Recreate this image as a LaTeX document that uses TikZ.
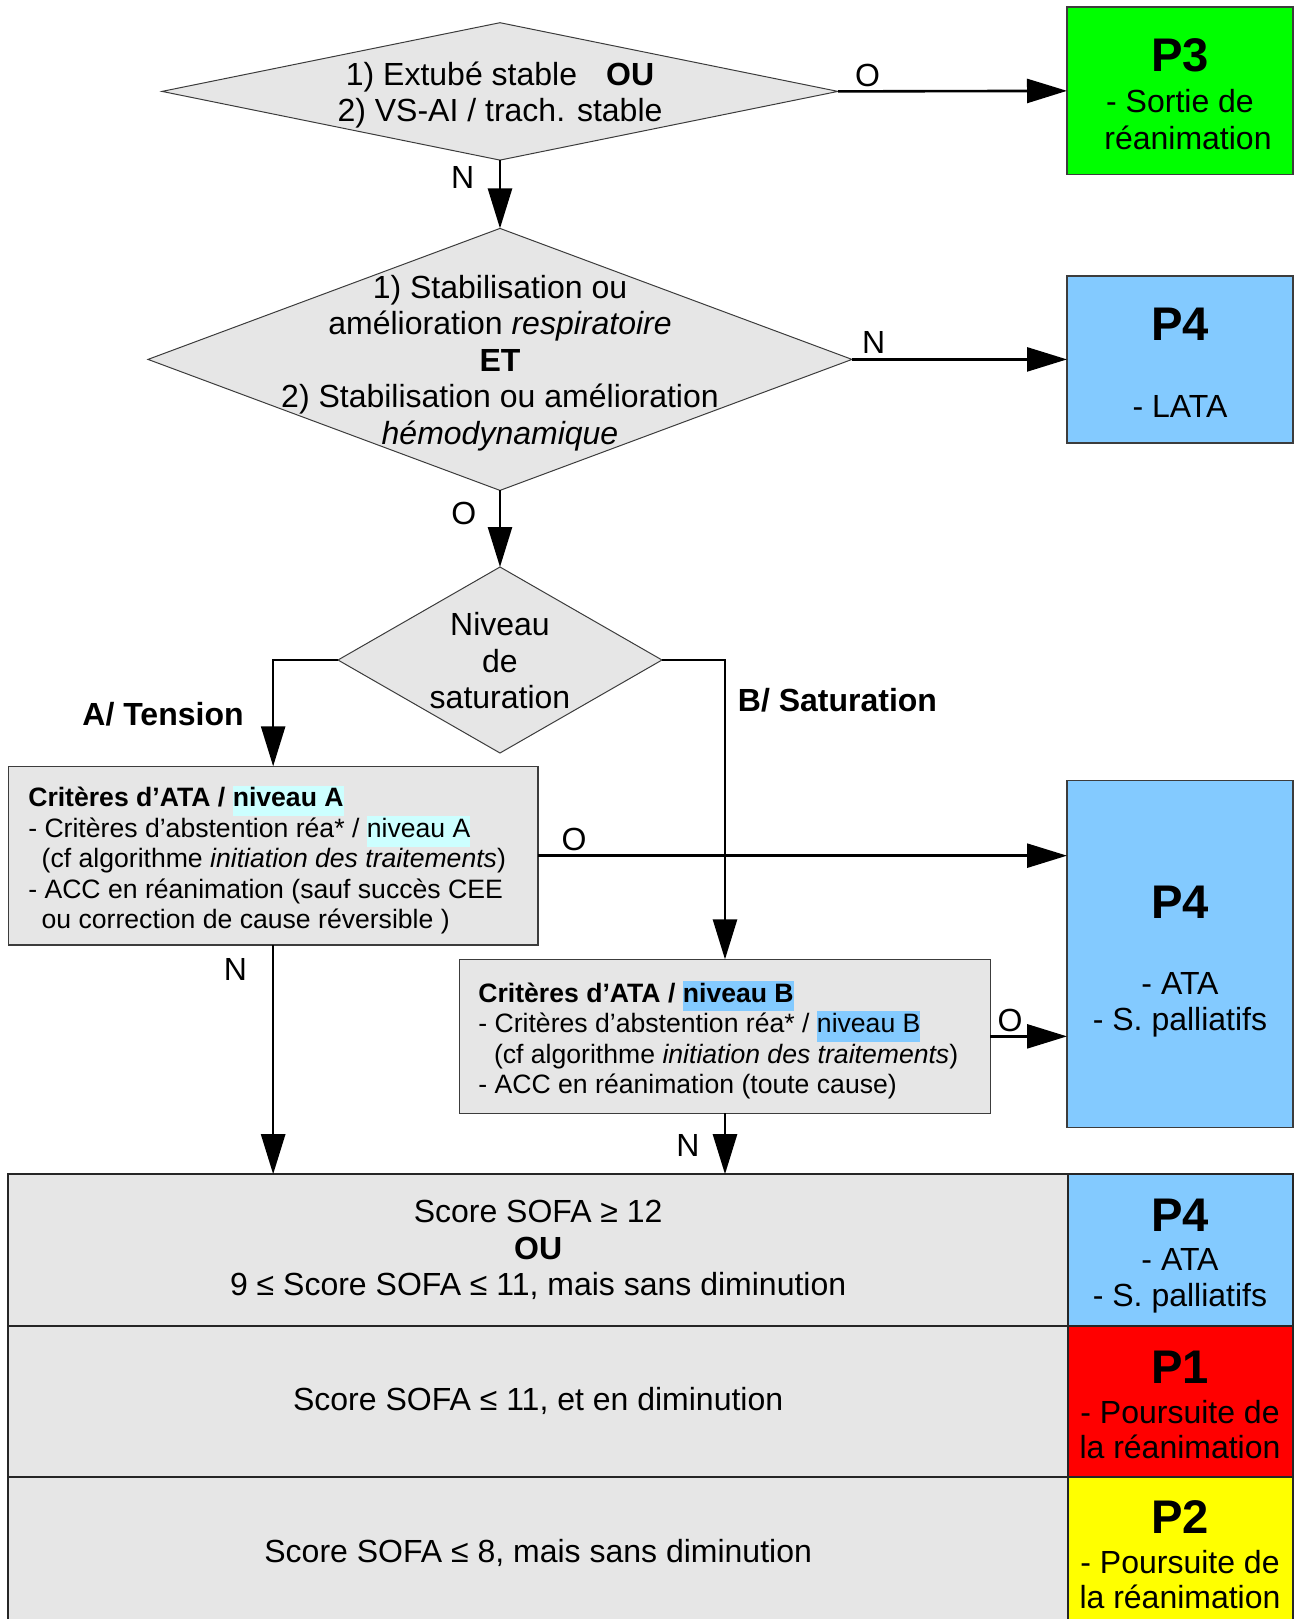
\documentclass[tikz,border=0pt]{standalone}
\usepackage{fontspec}
\setmainfont{Liberation Sans}
\usetikzlibrary{shapes.geometric,arrows.meta}
\definecolor{boxgray}{HTML}{E6E6E6}
\definecolor{pgreen}{HTML}{00FF00}
\definecolor{pblue}{HTML}{83CAFF}
\definecolor{pred}{HTML}{FF0000}
\definecolor{pyellow}{HTML}{FFFF00}
\definecolor{hlcyan}{HTML}{CCFFFF}
\definecolor{edgegray}{HTML}{3C3C3C}
\newcommand\fmain{\fontsize{16pt}{18.25pt}\selectfont}
\newcommand\fsmall{\fontsize{13.3pt}{15.25pt}\selectfont}
\newcommand\fbig{\fontsize{23.6pt}{28pt}\selectfont\bfseries}
\newcommand\hlbox[2]{{\setlength{\fboxsep}{0pt}\colorbox{#1}{\strut #2}}}
\begin{document}
\begin{tikzpicture}[x=0.5pt,y=-0.5pt,
  decision/.style={shape=diamond, draw=edgegray, line width=0.5pt, fill=boxgray, inner sep=0pt, outer sep=0pt},
  critbox/.style={rectangle, draw=edgegray, line width=0.75pt, fill=boxgray, inner sep=0pt, outer sep=0pt},
  pbox/.style={rectangle, draw=edgegray, line width=0.75pt, inner sep=0pt, outer sep=0pt, minimum width=113pt},
  cell/.style={rectangle, draw=black!85, line width=1.1pt, inner sep=0pt, outer sep=0pt, font=\fmain, align=center},
  flow/.style={draw=black, line width=1.3pt, -{Triangle[length=20pt,width=12pt]}},
  lbl/.style={font=\fmain, inner sep=0pt, anchor=base},
  plbl/.style={font=\fbig, inner sep=0pt, anchor=base},
  dtext/.style={font=\fmain, inner sep=0pt, align=center},
  btext/.style={font=\fsmall, inner sep=0pt, align=left, anchor=west}]
\useasboundingbox (0,0) rectangle (1295,1619);

% decisions
\node[decision, minimum width=338pt, minimum height=68.7pt] (d1) at (500,91.4) {};
\node[dtext] (t1) at (500,95) {1) Extubé stable\hspace{14.5pt}\textbf{OU}\\2) VS-AI / trach. stable};
\node[decision, minimum width=352pt, minimum height=131pt] (d2) at (500,359.4) {};
\node[dtext] (t2) at (500,363) {1) Stabilisation ou\\amélioration \textit{respiratoire}\\\textbf{ET}\\2) Stabilisation ou amélioration\\\textit{hémodynamique}};
\node[decision, minimum width=162pt, minimum height=93pt] (d3) at (500,660) {};
\node[dtext] (t3) at (500,661) {Niveau\\de\\saturation};

% outcome boxes
\node[pbox, fill=pgreen, minimum height=83.65pt] (p3) at (1180,90.85) {};
\node[plbl] (p3a) at (1180,71) {P3};
\node[lbl] (p3b) at (1180,112.5) {- Sortie de};
\node[lbl] (p3c) at (1188,149) {réanimation};

\node[pbox, fill=pblue, minimum height=83.65pt] (p4a) at (1180,359.4) {};
\node[plbl] (p4aa) at (1180,340) {P4};
\node[lbl] (p4ab) at (1180,417.5) {- LATA};

\node[pbox, fill=pblue, minimum height=173.5pt] (p4b) at (1180,954.2) {};
\node[plbl] (p4ba) at (1180,918.5) {P4};
\node[lbl] (p4bb) at (1180,994.5) {- ATA};
\node[lbl] (p4bc) at (1180,1030.5) {- S. palliatifs};

% criteria boxes
\node[critbox, minimum width=264.85pt, minimum height=89.35pt] (ba) at (273.15,855.65) {};
\node[btext] (bat) at (27.9,860) {\textbf{Critères d’ATA / \hlbox{hlcyan}{niveau A}}\\
- Critères d’abstention réa* / \hlbox{hlcyan}{niveau A}\\
\hspace*{6.7pt}(cf algorithme \textit{initiation des traitements})\\
- ACC en réanimation (sauf succès CEE\\
\hspace*{6.7pt}ou correction de cause réversible )};

\node[critbox, minimum width=265.4pt, minimum height=76.95pt] (bb) at (725,1036.35) {};
\node[btext] (bbt) at (478,1040) {\textbf{Critères d’ATA / \hlbox{pblue}{niveau B}}\\
- Critères d’abstention réa* / \hlbox{pblue}{niveau B}\\
\hspace*{7.8pt}(cf algorithme \textit{initiation des traitements})\\
- ACC en réanimation (toute cause)};

% table
\node[cell, fill=boxgray, minimum width=529.85pt, minimum height=75.9pt] (r1) at (538.15,1250.1) {Score SOFA ≥ 12\\\textbf{OU}\\9 ≤ Score SOFA ≤ 11, mais sans diminution};
\node[cell, fill=pblue, minimum width=112.5pt, minimum height=75.9pt] (r1p) at (1180.5,1250.1) {};
\node[cell, fill=boxgray, minimum width=529.85pt, minimum height=75.4pt] (r2) at (538.15,1401.4) {Score SOFA ≤ 11, et en diminution};
\node[cell, fill=pred, minimum width=112.5pt, minimum height=75.4pt] (r2p) at (1180.5,1401.4) {};
\node[cell, fill=boxgray, minimum width=529.85pt, minimum height=76.6pt] (r3) at (538.15,1553.4) {Score SOFA ≤ 8, mais sans diminution};
\node[cell, fill=pyellow, minimum width=112.5pt, minimum height=76.6pt] (r3p) at (1180.5,1553.4) {};

\node[plbl] (r1a) at (1180,1231.5) {P4};
\node[lbl] (r1b) at (1180,1270.5) {- ATA};
\node[lbl] (r1c) at (1180,1306.5) {- S. palliatifs};
\node[plbl] (r2a) at (1180,1383) {P1};
\node[lbl] (r2b) at (1180,1423) {- Poursuite de};
\node[lbl] (r2c) at (1180,1458.5) {la réanimation};
\node[plbl] (r3a) at (1180,1533) {P2};
\node[lbl] (r3b) at (1180,1573) {- Poursuite de};
\node[lbl] (r3c) at (1180,1608) {la réanimation};

% connectors
\draw[flow] (d1.east) -- (p3.west);
\draw[flow] (d1.south) -- (d2.north);
\draw[flow] (d2.east) -- (p4a.west);
\draw[flow] (d2.south) -- (d3.north);
\draw[flow] (d3.west) -| (ba.north);
\draw[flow] (d3.east) -| (bb.north);
\draw[flow] (ba.east) -- (ba.east -| p4b.west);
\draw[flow] (bb.east) -- (bb.east -| p4b.west);
\draw[flow] (ba.south) -- (ba.south |- r1.north);
\draw[flow] (bb.south) -- (bb.south |- r1.north);

% connector labels
\node[lbl] (lo1) at (867.5,86) {O};
\node[lbl] (ln1) at (462.6,188) {N};
\node[lbl] (ln2) at (873.7,353) {N};
\node[lbl] (lo2) at (463.7,524) {O};
\node[lbl, font=\fmain\bfseries] (lA) at (163,725) {A/ Tension};
\node[lbl, font=\fmain\bfseries] (lB) at (837.5,711.5) {B/ Saturation};
\node[lbl] (lo3) at (574,850) {O};
\node[lbl] (ln3) at (235.5,980) {N};
\node[lbl] (lo4) at (1010,1031) {O};
\node[lbl] (ln4) at (687.8,1156) {N};
\end{tikzpicture}
\end{document}
